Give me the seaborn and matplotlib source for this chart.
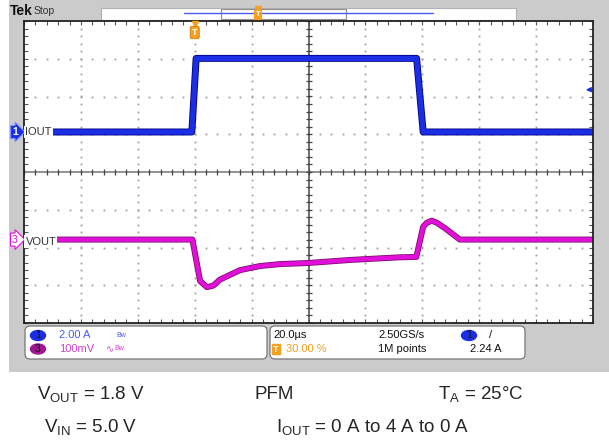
import numpy as np
import matplotlib
matplotlib.use('Agg')
import matplotlib.pyplot as plt
import matplotlib.patheffects as pe
from matplotlib.patches import Rectangle, Ellipse, FancyBboxPatch
import seaborn as sns

sns.set_style('white')
plt.rcParams['font.family'] = ['Liberation Sans', 'DejaVu Sans']
plt.rcParams['mathtext.fontset'] = 'custom'
plt.rcParams['mathtext.rm'] = 'Liberation Sans'
plt.rcParams['mathtext.it'] = 'Liberation Sans'

# scope settings
time_per_div = 20.0      # us/div
trig_pos = 0.30          # trigger at 30 % of record
amps_per_div = 2.0       # ch1
mv_per_div = 100.0       # ch3
iout_offset = 1.06       # divisions above centre
vout_offset = -1.79      # divisions below centre

# ch1 - load current (A) vs time (us)
t_iout = [-60, -1.0, 0.5, 78.0, 80.3, 140]
iout = [0, 0, 3.9, 3.9, 0, 0]

# ch3 - output voltage deviation (mV) vs time (us)
t_vout = [-60, -0.8, 1.9, 4.3, 6.5, 8.9, 15.9, 23, 30, 40, 54.6, 72,
          77.9, 80.3, 81.5, 83.3, 85, 88, 93.2, 140]
vout = [0, 0, -110, -126, -122, -106, -81, -70, -65, -62, -54, -47,
        -46, 34, 44, 50, 45, 30, 0, 0]

t0 = -trig_pos * 10 * time_per_div
t1 = t0 + 10 * time_per_div
tc = (t0 + t1) / 2

gray = '#cbcbcb'
blue = '#1a2ee6'
magenta = '#e010d8'
orange = '#f5a020'

fig = plt.figure(figsize=(6.09, 4.42), dpi=100)

# background layer in pixel coords
bg = fig.add_axes([0, 0, 1, 1], zorder=0)
bg.set_xlim(0, 609)
bg.set_ylim(442, 0)
bg.axis('off')
bg.add_patch(Rectangle((8.5, 0), 601, 371.5, color=gray, lw=0))

# top bar
bg.text(10, 11, 'Tek', fontsize=10, fontweight='bold', va='center', color='#111')
bg.text(34, 11, 'Stop', fontsize=7.5, va='center', color='#333')
bg.add_patch(Rectangle((101, 7.5), 415, 12, facecolor='white', edgecolor='#b0b0b0', lw=0.8))
bg.plot([184, 433], [13, 13], color='#4a5cf0', lw=1)
bg.add_patch(Rectangle((221, 8.5), 125, 10, fill=False, edgecolor='#909090', lw=0.8))
bg.plot([258], [9], marker='v', ms=4, color=orange)
bg.text(258, 15, 'T', fontsize=5.5, color='white', ha='center', va='center', fontweight='bold',
        bbox=dict(boxstyle='round,pad=0.15', fc=orange, ec=orange))

# bottom readout boxes
for x0, w in [(25, 242), (270, 255)]:
    bg.add_patch(FancyBboxPatch((x0, 326), w, 33, boxstyle='round,pad=0,rounding_size=5',
                                facecolor='white', edgecolor='#777', lw=0.9))

r1, r2 = 335.5, 349
fs = 8
bg.add_patch(Ellipse((38, r1), 15, 10, color=blue))
bg.text(38, r1, '1', fontsize=7.5, ha='center', va='center', color='#111')
bg.text(59, r1, '2.00 A', fontsize=fs, va='center', color='#4a5cf0')
bg.text(116, r1, 'Bw', fontsize=5, va='center', color='#4a5cf0')
bg.add_patch(Ellipse((38, r2), 15, 10, color='#a01890'))
bg.text(38, r2, '3', fontsize=7.5, ha='center', va='center', color='#111')
bg.text(59, r2, '100mV', fontsize=fs, va='center', color='#d040d0')
bg.text(106, r2, '∿', fontsize=7, va='center', color='#d040d0', family=['DejaVu Sans'])
bg.text(114, r2, 'Bw', fontsize=5, va='center', color='#d040d0')

bg.text(273, r1, '20.0\u00b5s', fontsize=fs, va='center', color='#111')
bg.text(378, r1, '2.50GS/s', fontsize=fs, va='center', color='#111')
bg.add_patch(Ellipse((469, r1), 15, 10, color=blue))
bg.text(469, r1, '1', fontsize=7.5, ha='center', va='center', color='#111')
bg.text(489, r1, '/', fontsize=fs, va='center', color='#111')
bg.add_patch(Rectangle((272, r2 - 5), 8, 10, color=orange))
bg.text(276, r2, 'T', fontsize=6.5, ha='center', va='center', color='white', fontweight='bold')
bg.text(286, r2, '30.00 %', fontsize=fs, va='center', color=orange)
bg.text(378, r2, '1M points', fontsize=fs, va='center', color='#111')
bg.text(470, r2, '2.24 A', fontsize=fs, va='center', color='#111')

# conditions below the screenshot
fs_big = 13.5
bg.text(37, 399, r'V$_{\mathrm{OUT}}$ = 1.8 V', fontsize=fs_big, va='baseline')
bg.text(254, 399, 'PFM', fontsize=fs_big, va='baseline')
bg.text(438, 399, r'T$_{\mathrm{A}}$ = 25°C', fontsize=fs_big, va='baseline')
bg.text(44, 432, r'V$_{\mathrm{IN}}$ = 5.0 V', fontsize=fs_big, va='baseline')
bg.text(276, 432, r'I$_{\mathrm{OUT}}$ = 0 A to 4 A to 0 A', fontsize=fs_big, va='baseline')

# graticule
ax = fig.add_axes([24 / 609, (442 - 323) / 442, 569 / 609, 302 / 442], zorder=1)
ax.set_facecolor('white')
ax.set_xlim(t0, t1)
ax.set_ylim(-4, 4)

ydots = np.arange(-4, 4.001, 0.2)
xdots = np.arange(t0, t1 + 0.001, time_per_div / 5)
for xv in np.arange(t0 + time_per_div, t1, time_per_div):
    if abs(xv - tc) > 1e-6:
        ax.plot(np.full(len(ydots), xv), ydots, ls='none', marker='s', ms=1.3, mew=0, color='#a0a0a0')
for yv in range(-3, 4):
    if yv != 0:
        ax.plot(xdots, np.full(len(xdots), yv), ls='none', marker='s', ms=1.3, mew=0, color='#a0a0a0')
ax.axhline(0, color='#909090', lw=1.4)
ax.axvline(tc, color='#555555', lw=1.2)
ax.plot(xdots, np.zeros(len(xdots)), ls='none', marker='|', ms=5, mew=0.9, color='#444')
ax.plot(np.full(len(ydots), tc), ydots, ls='none', marker='_', ms=5, mew=0.9, color='#444')

ax.set_xticks(np.arange(t0, t1 + 0.001, time_per_div))
ax.set_xticks(xdots, minor=True)
ax.set_yticks(np.arange(-4, 5, 1))
ax.set_yticks(ydots, minor=True)
ax.tick_params(which='both', direction='in', top=True, right=True, bottom=True, left=True,
               length=3, width=0.8, color='#555', labelbottom=False, labelleft=False)
for s in ax.spines.values():
    s.set_color('#222')
    s.set_linewidth(1.3)

# traces
iout_div = [v / amps_per_div + iout_offset for v in iout]
vout_div = [v / mv_per_div + vout_offset for v in vout]
sns.lineplot(x=t_iout, y=iout_div, ax=ax, color=blue, lw=3.8,
             path_effects=[pe.Stroke(linewidth=5.0, foreground='#000080'), pe.Normal()])
sns.lineplot(x=t_vout, y=vout_div, ax=ax, color=magenta, lw=3.2,
             path_effects=[pe.Stroke(linewidth=4.3, foreground='#7a0a6a'), pe.Normal()])
ax.set_xlabel('')
ax.set_ylabel('')

# foreground markers in pixel coords
fg = fig.add_axes([0, 0, 1, 1], zorder=3)
fg.patch.set_alpha(0)
fg.set_xlim(0, 609)
fg.set_ylim(442, 0)
fg.axis('off')

ypx_i = 172 - iout_offset * 37.75
ypx_v = 172 - vout_offset * 37.75
fg.text(15, ypx_i, '1', fontsize=7.5, ha='center', va='center', color='white', fontweight='bold',
        bbox=dict(boxstyle='rarrow,pad=0.15', fc=blue, ec='#8090ff', lw=0.8))
fg.text(25.5, ypx_i, 'IOUT', fontsize=8, va='center', color='#333',
        bbox=dict(boxstyle='square,pad=0.1', fc='white', ec='none'))
fg.text(15, ypx_v, '3', fontsize=7.5, ha='center', va='center', color=magenta,
        bbox=dict(boxstyle='rarrow,pad=0.15', fc='white', ec=magenta, lw=0.8))
fg.text(25.5, ypx_v + 2, 'VOUT', fontsize=8, va='center', color='#333',
        bbox=dict(boxstyle='square,pad=0.1', fc='white', ec='none'))

# trigger position marker
xtrig = 24 + trig_pos * 569
fg.plot([xtrig], [24], marker='v', ms=4.5, color=orange)
fg.text(xtrig, 32.5, 'T', fontsize=6.5, ha='center', va='center', color='white', fontweight='bold',
        bbox=dict(boxstyle='round,pad=0.2', fc=orange, ec='#c07000', lw=0.5))

# trigger level marker (2.24 A)
ypx_trig = 172 - (iout_offset + 2.24 / amps_per_div) * 37.75
fg.annotate('', xy=(583, ypx_trig), xytext=(592, ypx_trig),
            arrowprops=dict(arrowstyle='-|>', color=blue, lw=1, mutation_scale=7))

fig.savefig('out.png', dpi=100)
